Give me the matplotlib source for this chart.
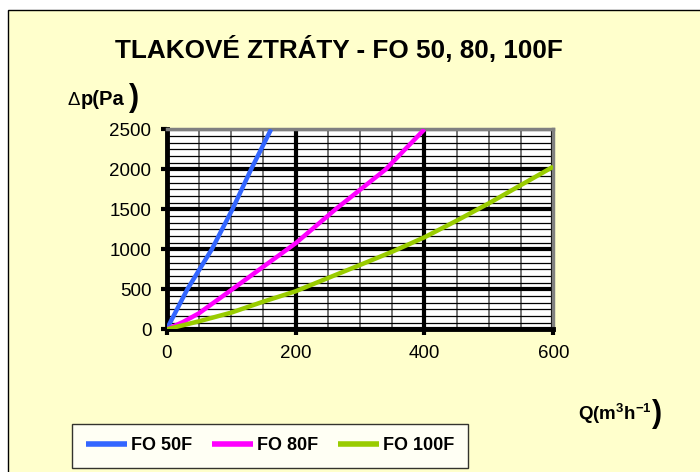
import matplotlib.pyplot as plt
from matplotlib.patches import Rectangle
from matplotlib.ticker import MultipleLocator

plt.rcParams['font.family'] = ['Liberation Sans', 'DejaVu Sans']
plt.rcParams['mathtext.fontset'] = 'custom'
plt.rcParams['mathtext.rm'] = 'Liberation Sans'
plt.rcParams['mathtext.bf'] = 'Liberation Sans:bold'

# (Q, dp) points per filter
q_50 = [0, 32, 70, 102, 131, 162]
p_50 = [0, 500, 1000, 1500, 2000, 2500]
q_80 = [0, 25, 50, 100, 150, 200, 262, 340, 400]
p_80 = [0, 90, 200, 490, 783, 1075, 1500, 2000, 2500]
q_100 = [0, 50, 100, 150, 200, 250, 300, 350, 400, 450, 500, 550, 600]
p_100 = [0, 100, 208, 346, 475, 640, 804, 970, 1150, 1358, 1575, 1804, 2033]
names = ['FO 50F', 'FO 80F', 'FO 100F']
colors = ['#3366FF', '#FF00FF', '#99CC00']

W, H = 700, 472
fig = plt.figure(figsize=(7, 4.72), dpi=100, facecolor='white')

# yellow chart area with black border
fig.patches.append(Rectangle((8 / W, -0.01), 1.0, 1 - 10 / H + 0.01,
                             transform=fig.transFigure, facecolor='#FFFFCC',
                             edgecolor='black', lw=1, zorder=-10))

ax = fig.add_axes([166.7 / W, 1 - 329.3 / H, 386.6 / W, 200 / H])
ax.set_facecolor('white')

for q, p, c, n in zip([q_50, q_80, q_100], [p_50, p_80, p_100], colors, names):
    ax.plot(q, p, color=c, lw=3.2, label=n, solid_capstyle='butt',
            solid_joinstyle='round', zorder=5)

ax.set_xlim(0, 600)
ax.set_ylim(0, 2500)
ax.xaxis.set_major_locator(MultipleLocator(200))
ax.xaxis.set_minor_locator(MultipleLocator(50))
ax.yaxis.set_major_locator(MultipleLocator(500))
ax.yaxis.set_minor_locator(MultipleLocator(500 / 6))

ax.grid(which='major', color='black', lw=3)
ax.grid(which='minor', axis='y', color='black', lw=0.9)
ax.grid(which='minor', axis='x', color='#505050', lw=1.1)
ax.set_axisbelow(True)

for s in ['left', 'bottom']:
    ax.spines[s].set_color('black')
    ax.spines[s].set_linewidth(3.5)
for s in ['top', 'right']:
    ax.spines[s].set_color('#808080')
    ax.spines[s].set_linewidth(2.5)

ax.tick_params(which='major', length=4, width=3, color='black',
               labelsize=13.5, pad=7)
ax.tick_params(which='minor', length=0)

fig.text(0.484, 1 - 50 / H, 'TLAKOVÉ ZTRÁTY - FO 50, 80, 100F',
         ha='center', va='center', fontsize=18.8, fontweight='bold')

# axis captions with the large closing bracket
fig.text(67 / W, 1 - 105 / H, 'Δ', ha='left', va='baseline', fontsize=13.5)
fig.text(81 / W, 1 - 105 / H, 'p(Pa', ha='left', va='baseline',
         fontsize=14.5, fontweight='bold')
fig.text(129 / W, 1 - 98 / H, ')', ha='left', va='center',
         fontsize=22, fontweight='bold')

fig.text(578 / W, 1 - 420 / H, r'$\mathbf{Q(m^{3}h^{-1}}$', ha='left',
         va='baseline', fontsize=13.5)
fig.text(652 / W, 1 - 414 / H, ')', ha='left', va='center',
         fontsize=22, fontweight='bold')

leg = fig.legend(loc='lower left', bbox_to_anchor=(72 / W, 1 - 468 / H),
                 ncol=3, prop={'weight': 'bold', 'size': 13},
                 handlelength=2.3, handletextpad=0.2, columnspacing=1.1,
                 frameon=True, fancybox=False, borderpad=0.75,
                 borderaxespad=0)
leg.get_frame().set_edgecolor('black')
leg.get_frame().set_linewidth(1)
for h in leg.get_lines():
    h.set_linewidth(4)

fig.savefig('out.png', dpi=100, facecolor='white')
